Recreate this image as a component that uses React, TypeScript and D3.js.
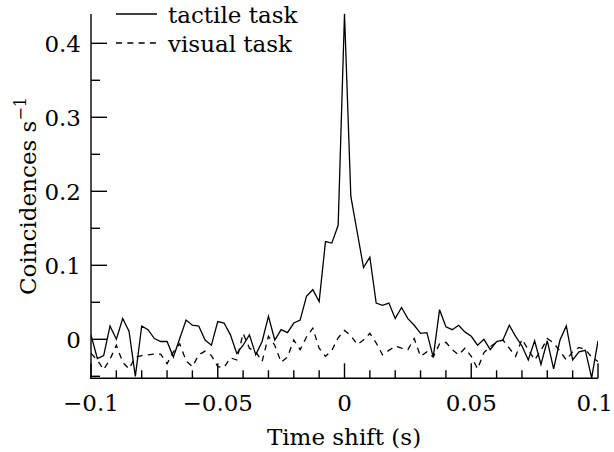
import React from 'react';
import * as d3 from 'd3';

const BIN_START = -0.1;
const BIN_WIDTH = 0.0025;

const tactile = [
  0.006, -0.026, -0.022, 0.018, 0.0, 0.028, 0.011, -0.05, 0.018, 0.013,
  0.001, -0.003, -0.003, -0.024, 0.001, 0.026, 0.019, 0.018, -0.001, -0.008,
  0.024, 0.022, 0.006, -0.019, -0.008, 0.006, -0.021, -0.003, 0.031, -0.001,
  0.013, 0.009, 0.022, 0.026, 0.058, 0.067, 0.051, 0.132, 0.13, 0.154,
  0.44, 0.193, 0.145, 0.097, 0.111, 0.049, 0.046, 0.049, 0.028, 0.043,
  0.028, 0.019, 0.008, 0.009, -0.024, 0.04, 0.017, 0.013, 0.019, 0.01,
  0.004, -0.008, 0.0, -0.014, -0.003, -0.001, 0.019, 0.004, -0.009, -0.028,
  -0.002, -0.034, -0.002, -0.04, -0.001, 0.018, -0.028, -0.017, -0.015, -0.052,
  -0.002,
];

const visual = [
  -0.019, -0.028, -0.041, -0.027, -0.008, -0.031, -0.04, -0.024, -0.022, -0.021,
  -0.02, -0.02, -0.033, -0.017, -0.006, -0.029, -0.037, -0.021, -0.016, -0.022,
  -0.037, -0.038, -0.025, -0.028, 0.008, -0.012, -0.017, -0.03, 0.004, -0.008,
  -0.031, -0.024, -0.001, -0.014, 0.003, 0.015, -0.012, -0.023, -0.015, 0.002,
  0.012, 0.005, -0.007, -0.001, 0.008, -0.005, -0.021, -0.015, -0.009, -0.012,
  -0.014, 0.001, -0.023, -0.017, -0.024, -0.006, -0.004, -0.014, -0.021, -0.012,
  -0.023, -0.04, -0.018, -0.01, -0.004, -0.001, -0.012, -0.023, 0.0, -0.014,
  -0.028, -0.015, 0.001, -0.005, -0.016, -0.028, -0.017, -0.011, -0.014, -0.024,
  -0.03,
];

const xMajorTicks = [-0.1, -0.05, 0, 0.05, 0.1];
const xMajorLabels = ['\u22120.1', '\u22120.05', '0', '0.05', '0.1'];
const xMinorTicks = [-0.09, -0.08, -0.07, -0.06, -0.04, -0.03, -0.02, -0.01, 0.01, 0.02, 0.03, 0.04, 0.06, 0.07, 0.08, 0.09];
const yMajorTicks = [0, 0.1, 0.2, 0.3, 0.4];
const yMajorLabels = ['0', '0.1', '0.2', '0.3', '0.4'];
const yMinorTicks = [-0.05, 0.05, 0.15, 0.25, 0.35];
const seriesNames = ['tactile task', 'visual task'];

const W = 614;
const H = 452;
const FONT = "'DejaVu Serif', serif";
const FS = 23;
const DASH = '6,5.3';

export default function App() {
  const x = d3.scaleLinear().domain([-0.1, 0.1]).range([91, 598]);
  const y = d3.scaleLinear().domain([-0.0527, 0.4396]).range([378.3, 14]);
  const t = (i: number) => BIN_START + i * BIN_WIDTH;
  const line = d3
    .line<number>()
    .x((_, i) => x(t(i)))
    .y((d) => y(d));

  const x0 = x(-0.1);
  const x1 = x(0.1);
  const yb = y(-0.0527);
  const yt = y(0.4396);
  const textStyle = { fontFamily: FONT };

  return (
    <svg
      width={W}
      height={H}
      viewBox={`0 0 ${W} ${H}`}
      style={{ position: 'absolute', left: 0, top: 0, background: '#fff', fontFamily: FONT }}
    >
      <defs>
        <clipPath id="plotclip">
          <rect x={x0} y={0} width={x1 - x0} height={yb} />
        </clipPath>
      </defs>

      <g clipPath="url(#plotclip)" fill="none" stroke="#000" strokeWidth={1.3} strokeLinejoin="miter">
        <path d={line(tactile) || ''} />
        <path d={line(visual) || ''} strokeDasharray={DASH} />
      </g>

      <g stroke="#000" strokeWidth={1.4} fill="none">
        <line x1={x0} x2={x0} y1={yt} y2={yb + 0.7} />
        <line x1={x0 - 0.7} x2={x1} y1={yb} y2={yb} />
        {yMajorTicks.map((v) => (
          <line key={'ym' + v} x1={x0} x2={x0 + 16} y1={y(v)} y2={y(v)} />
        ))}
        {yMinorTicks.map((v) => (
          <line key={'yn' + v} x1={x0} x2={x0 + 9} y1={y(v)} y2={y(v)} />
        ))}
        {xMajorTicks.map((v) => (
          <line key={'xm' + v} x1={x(v)} x2={x(v)} y1={yb} y2={yb - 15} />
        ))}
        {xMinorTicks.map((v) => (
          <line key={'xn' + v} x1={x(v)} x2={x(v)} y1={yb} y2={yb - 8} />
        ))}
      </g>

      <g fontSize={FS} fill="#000" style={textStyle}>
        {yMajorTicks.map((v, i) => (
          <text key={'yl' + v} x={81} y={y(v) + 8.5} textAnchor="end" style={textStyle}>
            {yMajorLabels[i]}
          </text>
        ))}
        {xMajorTicks.map((v, i) => {
          const last = i === xMajorTicks.length - 1;
          return (
            <text
              key={'xl' + v}
              x={last ? W - 1 : x(v)}
              y={410.5}
              textAnchor={last ? 'end' : 'middle'}
              style={textStyle}
            >
              {xMajorLabels[i]}
            </text>
          );
        })}
      </g>

      <text x={344} y={445} textAnchor="middle" fontSize={FS} fill="#000" style={textStyle}>
        Time shift (s)
      </text>
      <text
        transform="translate(36,196) rotate(-90)"
        textAnchor="middle"
        fontSize={FS}
        fill="#000"
        style={textStyle}
      >
        Coincidences s
        <tspan fontSize={16} dy={-10}>{'\u22121'}</tspan>
      </text>

      <g fill="#000" fontSize={FS} style={textStyle}>
        <line x1={116} x2={157} y1={14} y2={14} stroke="#000" strokeWidth={1.3} />
        <text x={168} y={23} style={textStyle}>{seriesNames[0]}</text>
        <line x1={116} x2={157} y1={43} y2={43} stroke="#000" strokeWidth={1.3} strokeDasharray={DASH} />
        <text x={168} y={52} style={textStyle}>{seriesNames[1]}</text>
      </g>
    </svg>
  );
}
